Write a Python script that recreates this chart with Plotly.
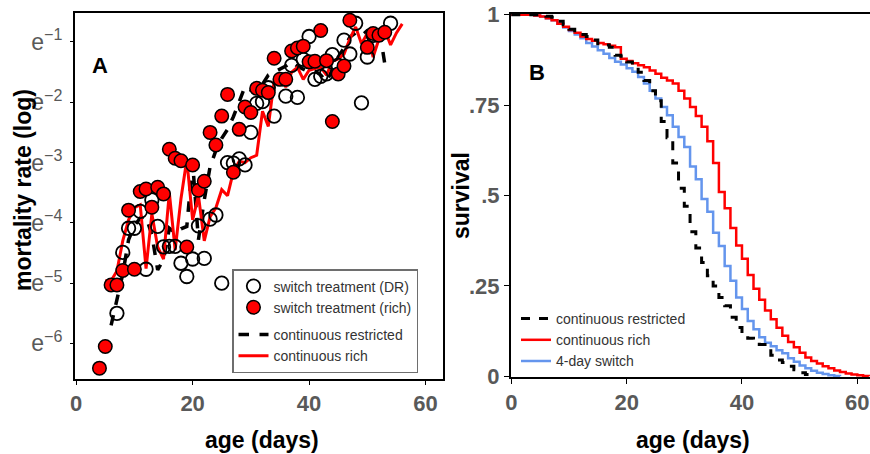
import plotly.graph_objects as go

# ---------------- Panel A data (natural log of mortality rate) ----------------
dr_age = [7, 8, 9, 10, 11, 12, 13, 14, 15, 16, 17, 18, 19, 20, 21, 22, 23, 24, 25, 26, 27, 28, 29, 30,
          31, 32, 33, 34, 36, 37, 38, 39, 40, 41, 42, 43, 44, 45, 46, 47, 48, 49, 50, 51, 54]
dr_ln = [-5.50, -4.49, -4.09, -4.09, -3.81, -4.77, -3.62, -4.06, -4.40, -4.39, -4.39, -4.67, -4.89, -4.60,
         -4.05, -4.59, -3.94, -3.87, -5.00, -3.00, -3.01, -2.94, -3.04, -2.50, -2.02, -1.99, -1.76, -2.23,
         -1.90, -1.39, -1.92, -1.29, -0.91, -1.62, -1.57, -1.53, -1.21, -1.39, -0.97, -1.20, -0.69, -2.01,
         -1.25, -0.89, -0.69]

rich_age = [4, 5, 6, 7, 8, 9, 10, 11, 12, 13, 14, 15, 16, 17, 18, 19, 20, 21, 22, 23, 24, 25, 26, 27, 28,
            29, 30, 31, 32, 33, 34, 35, 36, 37, 38, 39, 40, 41, 42, 43, 44, 45, 46, 47, 50, 51, 52, 53]
rich_ln = [-6.41, -6.05, -5.03, -5.03, -4.79, -3.79, -4.77, -3.48, -3.44, -3.74, -3.41, -3.52, -2.78, -2.93,
           -2.97, -4.40, -3.04, -3.46, -3.31, -2.50, -2.71, -2.23, -1.87, -3.16, -2.45, -2.08, -2.17, -1.77,
           -1.80, -1.84, -1.27, -1.62, -1.62, -1.15, -1.10, -1.07, -1.33, -1.32, -0.81, -1.31, -2.32, -1.53,
           -1.40, -0.64, -1.09, -0.86, -0.89, -0.84]

cr_age = list(range(6, 54))
cr_ln = [-5.70, -5.25, -4.85, -4.28, -4.05, -3.92, -3.90, -4.20, -4.78, -4.61, -4.09, -4.17, -4.10, -4.06,
         -3.00, -4.28, -3.62, -3.07, -2.80, -2.60, -2.45, -2.24, -2.00, -1.74, -1.80, -1.63, -1.70, -1.55,
         -1.50, -1.45, -1.40, -1.33, -1.40, -1.45, -1.50, -1.48, -1.55, -1.66, -1.45, -1.25, -1.10, -0.92,
         -0.85, -0.90, -0.81, -0.78, -0.75, -1.36]

crich_age = list(range(5, 57))
crich_ln = [-4.96, -4.96, -4.80, -4.30, -3.95, -3.75, -3.70, -4.76, -3.85, -4.40, -4.60, -3.50, -4.45, -3.60,
            -2.95, -3.95, -3.55, -4.30, -3.90, -3.75, -3.45, -3.55, -3.15, -2.98, -3.00, -2.92, -2.88, -2.15,
            -2.40, -1.65, -1.55, -1.75, -1.50, -1.42, -1.62, -1.47, -1.44, -1.42, -1.55, -1.32, -1.28, -1.20,
            -0.95, -0.75, -1.03, -0.86, -1.25, -0.95, -0.80, -1.05, -0.85, -0.70]

a_tickvals = [-1, -2, -3, -4, -5, -6]
a_ticktext = ["e<sup>\u22121</sup>", "e<sup>\u22122</sup>", "e<sup>\u22123</sup>",
              "e<sup>\u22124</sup>", "e<sup>\u22125</sup>", "e<sup>\u22126</sup>"]

# ---------------- Panel B data (survival) ----------------
surv_rich_age = list(range(0, 63))
surv_rich = [1.0, 1.0, 1.0, 1.0, 0.998, 0.995, 0.99, 0.985, 0.975, 0.967, 0.958, 0.95, 0.94, 0.933, 0.928,
             0.922, 0.918, 0.914, 0.91, 0.878, 0.872, 0.866, 0.86, 0.855, 0.846, 0.837, 0.826, 0.818, 0.81,
             0.79, 0.768, 0.745, 0.72, 0.69, 0.65, 0.59, 0.51, 0.465, 0.41, 0.362, 0.325, 0.28, 0.242, 0.212,
             0.182, 0.158, 0.134, 0.112, 0.095, 0.08, 0.065, 0.052, 0.042, 0.035, 0.028, 0.022, 0.016, 0.012,
             0.008, 0.005, 0.003, 0.001, 0.0]

surv_switch_age = list(range(0, 58))
surv_switch = [1.0, 1.0, 1.0, 1.0, 0.998, 0.995, 0.99, 0.985, 0.975, 0.965, 0.955, 0.945, 0.935, 0.922,
               0.912, 0.902, 0.892, 0.88, 0.87, 0.862, 0.852, 0.842, 0.828, 0.81, 0.79, 0.768, 0.745, 0.722,
               0.69, 0.662, 0.634, 0.58, 0.545, 0.49, 0.455, 0.397, 0.36, 0.305, 0.264, 0.218, 0.186, 0.153,
               0.13, 0.108, 0.093, 0.083, 0.072, 0.064, 0.05, 0.04, 0.03, 0.022, 0.015, 0.01, 0.006, 0.003,
               0.001, 0.0]

surv_restr_age = list(range(0, 53))
surv_restr = [1.0, 1.0, 1.0, 1.0, 1.0, 0.998, 0.996, 0.993, 0.982, 0.972, 0.96, 0.951, 0.945, 0.94, 0.93,
              0.92, 0.916, 0.91, 0.888, 0.885, 0.869, 0.855, 0.841, 0.818, 0.79, 0.762, 0.705, 0.66, 0.59,
              0.52, 0.47, 0.40, 0.355, 0.315, 0.278, 0.25, 0.218, 0.195, 0.163, 0.135, 0.118, 0.105, 0.097,
              0.088, 0.075, 0.058, 0.045, 0.038, 0.028, 0.018, 0.01, 0.005, 0.0]

b_tickvals = [0, 0.25, 0.5, 0.75, 1]
b_ticktext = ["0", ".25", ".5", ".75", "1"]
x_tickvals = [0, 20, 40, 60]

FONT = "Liberation Sans, Arial, sans-serif"
GRAY = "#595959"
RED = "#ff0000"
BLUE = "#6495ed"
W, H = 870, 454


def fx(px):
    return px / W


def fy(py):
    return 1 - py / H


fig = go.Figure()

# Panel A traces (drawing order), legend order via legendrank
fig.add_trace(go.Scatter(x=cr_age, y=cr_ln, mode="lines", name="continuous restricted",
                         line=dict(color="black", width=3.5, dash="dash"),
                         xaxis="x", yaxis="y", legend="legend", legendgroup="lines", legendrank=3))
fig.add_trace(go.Scatter(x=crich_age, y=crich_ln, mode="lines", name="continuous rich",
                         line=dict(color=RED, width=3),
                         xaxis="x", yaxis="y", legend="legend", legendgroup="lines", legendrank=4))
fig.add_trace(go.Scatter(x=dr_age, y=dr_ln, mode="markers", name="switch treatment (DR)",
                         marker=dict(symbol="circle-open", size=13.5, color="black", line=dict(width=1.8)),
                         xaxis="x", yaxis="y", legend="legend", legendgroup="pts", legendrank=1))
fig.add_trace(go.Scatter(x=rich_age, y=rich_ln, mode="markers", name="switch treatment (rich)",
                         marker=dict(symbol="circle", size=13.5, color=RED,
                                     line=dict(color="black", width=1.5)),
                         xaxis="x", yaxis="y", legend="legend", legendgroup="pts", legendrank=2))

# Panel B traces
fig.add_trace(go.Scatter(x=surv_switch_age, y=surv_switch, mode="lines", name="4-day switch",
                         line=dict(color=BLUE, width=2.5, shape="hv"),
                         xaxis="x2", yaxis="y2", legend="legend2", legendrank=3))
fig.add_trace(go.Scatter(x=surv_rich_age, y=surv_rich, mode="lines", name="continuous rich",
                         line=dict(color=RED, width=2.5, shape="hv"),
                         xaxis="x2", yaxis="y2", legend="legend2", legendrank=2))
fig.add_trace(go.Scatter(x=surv_restr_age, y=surv_restr, mode="lines", name="continuous restricted",
                         line=dict(color="black", width=3, shape="hv", dash="dash"),
                         xaxis="x2", yaxis="y2", legend="legend2", legendrank=1))

tick_bold = dict(family=FONT, size=22, color=GRAY, weight="bold")
common = dict(showgrid=False, zeroline=False, showline=True, linecolor="black", linewidth=2,
              ticks="outside", tickcolor="black", tickwidth=1, automargin=False)


def ann(text, x, y, size=23, angle=0):
    return dict(text=text, x=fx(x), y=fy(y), xref="paper", yref="paper", xanchor="center",
                yanchor="middle", textangle=angle, showarrow=False,
                font=dict(family=FONT, size=size, color="black"))


fig.update_layout(
    width=W, height=H,
    margin=dict(l=0, r=0, t=0, b=0, autoexpand=False),
    paper_bgcolor="white", plot_bgcolor="white",
    font=dict(family=FONT),
    xaxis=dict(domain=[fx(75), fx(443)], range=[-0.2, 63], tickvals=x_tickvals, mirror=True,
               ticklen=4, tickfont=tick_bold, anchor="y", **common),
    yaxis=dict(domain=[fy(379), fy(13)], range=[-6.59, -0.52], tickvals=a_tickvals, ticktext=a_ticktext,
               mirror=True, ticklen=3, tickfont=dict(family=FONT, size=23, color=GRAY), anchor="x",
               ticklabelstandoff=3, **common),
    xaxis2=dict(domain=[fx(511), 1.0], range=[-0.05, 62.2], tickvals=x_tickvals, mirror=True,
                ticklen=5, tickfont=tick_bold, anchor="y2", **common),
    yaxis2=dict(domain=[fy(377), fy(14)], range=[-0.002, 1.002], tickvals=b_tickvals, ticktext=b_ticktext,
                ticklen=5, tickfont=tick_bold, anchor="x2", **common),
    legend=dict(x=fx(232), y=fy(269), xanchor="left", yanchor="top",
                bgcolor="white", bordercolor="#6e6e6e", borderwidth=1.5,
                font=dict(family=FONT, size=14, color="#333333"),
                traceorder="grouped", tracegroupgap=6, itemwidth=30),
    legend2=dict(x=fx(516), y=fy(303), xanchor="left", yanchor="top",
                 bgcolor="rgba(0,0,0,0)", borderwidth=0,
                 font=dict(family=FONT, size=14, color="#333333"), traceorder="normal", itemwidth=30),
    showlegend=True,
    annotations=[
        ann("<b>mortality rate (log)</b>", 23, 190, angle=-90),
        ann("<b>age (days)</b>", 262, 440),
        ann("<b>survival</b>", 461, 196, angle=-90),
        ann("<b>age (days)</b>", 693, 440),
        ann("<b>A</b>", 100, 65, size=22),
        ann("<b>B</b>", 537, 72, size=22),
    ],
)

fig.write_html("out.html", config={"displayModeBar": False},
               post_script="document.body.style.margin='0px';")
